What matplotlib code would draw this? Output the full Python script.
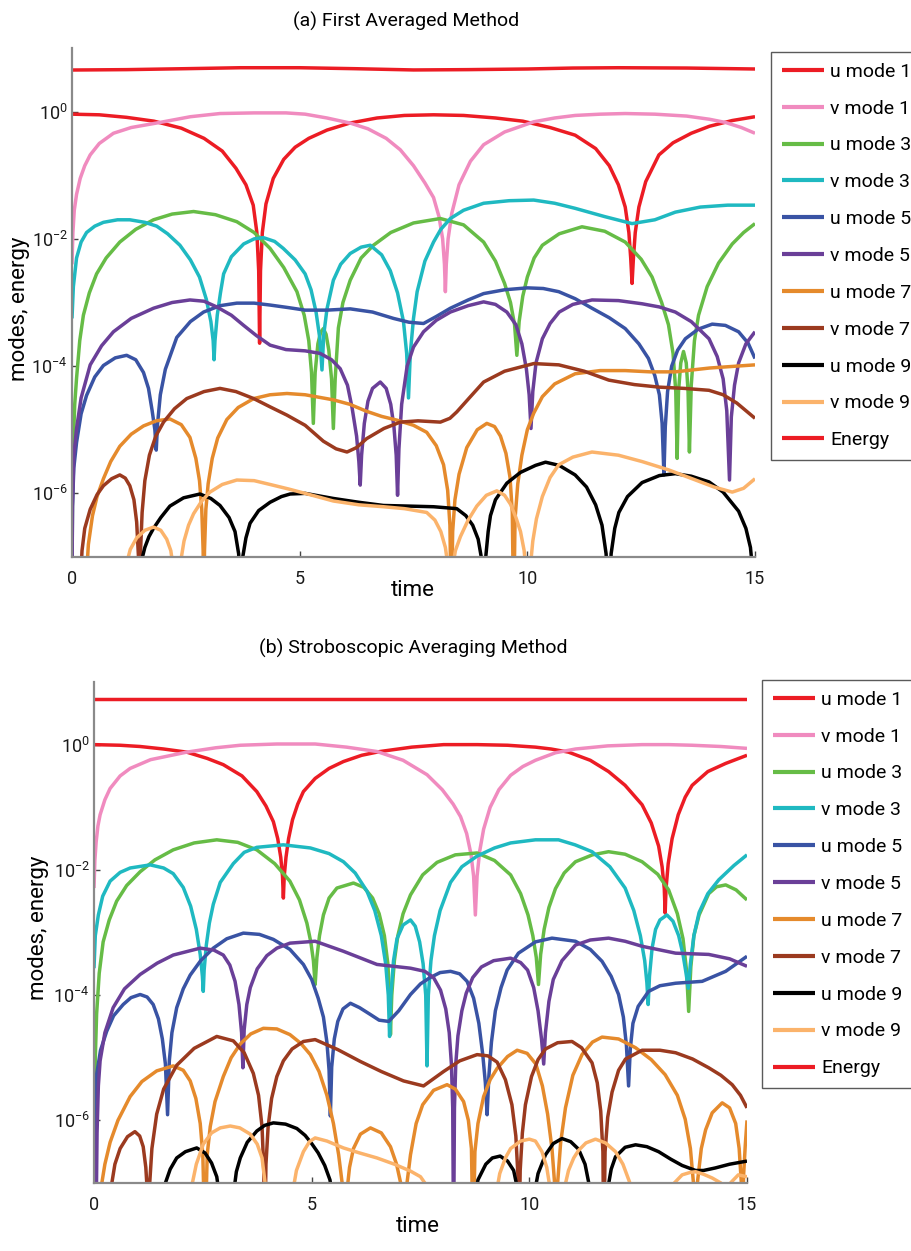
import numpy as np
import matplotlib
matplotlib.use("Agg")
import matplotlib.pyplot as plt
from matplotlib.ticker import FixedLocator, NullLocator, FuncFormatter

plt.rcParams['font.family'] = ['Roboto', 'DejaVu Sans']

# ---- mode amplitudes, stored as (time, log10 amplitude) points ----
# (a) first averaged method
energy_a = [(0, 0.654), (1.2, 0.66), (2.5, 0.675), (3.7, 0.69), (5, 0.69), (6.2, 0.675), (7.5, 0.655),
            (8.7, 0.66), (10, 0.67), (11, 0.685), (12, 0.69), (13.5, 0.685), (15, 0.67)]
u1_a = [(0, -0.04), (0.6, -0.05), (1.2, -0.09), (1.8, -0.15), (2.4, -0.26), (2.9, -0.42), (3.3, -0.62),
        (3.6, -0.89), (3.82, -1.15), (3.98, -1.47), (4.06, -1.9), (4.1, -2.5), (4.12, -3.64), (4.14, -2.5),
        (4.18, -1.9), (4.26, -1.45), (4.42, -1.05), (4.65, -0.75), (4.9, -0.56), (5.2, -0.42), (5.6, -0.29),
        (6.1, -0.18), (6.7, -0.1), (7.3, -0.06), (7.94, -0.05), (8.6, -0.06), (9.3, -0.1), (9.9, -0.15),
        (10.5, -0.25), (11.05, -0.37), (11.5, -0.58), (11.8, -0.85), (12.0, -1.15), (12.15, -1.5),
        (12.23, -1.9), (12.27, -2.3), (12.3, -2.7), (12.33, -2.3), (12.37, -1.9), (12.45, -1.5),
        (12.6, -1.1), (12.89, -0.68), (13.2, -0.49), (13.6, -0.34), (14.0, -0.23), (14.5, -0.14), (15, -0.08)]
v1_a = [(0, -2.4), (0.02, -1.9), (0.05, -1.55), (0.1, -1.3), (0.18, -1.05), (0.28, -0.85), (0.4, -0.68),
        (0.6, -0.5), (0.91, -0.34), (1.3, -0.25), (1.93, -0.17), (2.6, -0.08), (3.25, -0.03), (4.0, -0.02),
        (4.7, -0.02), (5.12, -0.04), (5.6, -0.1), (6.11, -0.18), (6.5, -0.27), (6.9, -0.42), (7.21, -0.6),
        (7.5, -0.85), (7.75, -1.12), (7.94, -1.35), (8.06, -1.65), (8.14, -2.0), (8.18, -2.4), (8.2, -2.83),
        (8.22, -2.4), (8.26, -2.0), (8.34, -1.6), (8.5, -1.15), (8.75, -0.78), (9.04, -0.52), (9.5, -0.32),
        (10.14, -0.16), (10.6, -0.1), (11.05, -0.06), (11.6, -0.04), (12.15, -0.03), (12.8, -0.04),
        (13.5, -0.07), (14.0, -0.12), (14.35, -0.17), (14.7, -0.25), (15, -0.34)]
u3_a = [(0, -7.5), (0.01, -6.0), (0.03, -5.2), (0.06, -4.6), (0.1, -4.19), (0.17, -3.6), (0.25, -3.2),
        (0.38, -2.85), (0.54, -2.55), (0.75, -2.3), (1.05, -2.05), (1.4, -1.85), (1.79, -1.7), (2.2, -1.61),
        (2.67, -1.57), (3.15, -1.62), (3.62, -1.73), (4.0, -1.9), (4.35, -2.15), (4.65, -2.45), (4.94, -2.83),
        (5.1, -3.2), (5.2, -3.6), (5.26, -4.1), (5.3, -4.9), (5.34, -4.1), (5.4, -3.65), (5.46, -3.47),
        (5.52, -3.41), (5.58, -3.5), (5.64, -3.75), (5.7, -4.2), (5.74, -4.98), (5.78, -4.2), (5.85, -3.4),
        (5.95, -3.0), (6.11, -2.65), (6.35, -2.3), (6.62, -2.1), (7.0, -1.9), (7.5, -1.75), (8.09, -1.68),
        (8.6, -1.78), (9.04, -2.05), (9.3, -2.35), (9.5, -2.7), (9.63, -3.0), (9.72, -3.35), (9.77, -3.83),
        (9.82, -3.3), (9.9, -2.9), (10.0, -2.6), (10.15, -2.3), (10.33, -2.1), (10.7, -1.92), (11.2, -1.81),
        (11.7, -1.88), (12.15, -2.05), (12.5, -2.32), (12.74, -2.6), (12.95, -3.0), (13.1, -3.35),
        (13.2, -3.8), (13.26, -4.4), (13.29, -5.45), (13.32, -4.4), (13.37, -3.95), (13.43, -3.77),
        (13.49, -3.95), (13.53, -4.4), (13.56, -5.35), (13.6, -4.3), (13.67, -3.6), (13.76, -3.2),
        (13.95, -2.75), (14.2, -2.38), (14.5, -2.08), (14.75, -1.9), (15, -1.76)]
v3_a = [(0, -3.25), (0.03, -2.75), (0.1, -2.3), (0.2, -2.05), (0.32, -1.9), (0.5, -1.8), (0.69, -1.74),
        (1.0, -1.7), (1.27, -1.7), (1.6, -1.74), (1.86, -1.8), (2.1, -1.92), (2.37, -2.1), (2.6, -2.33),
        (2.8, -2.6), (2.95, -2.95), (3.05, -3.3), (3.1, -3.6), (3.12, -3.9), (3.14, -3.6), (3.19, -3.2),
        (3.26, -2.85), (3.33, -2.55), (3.5, -2.28), (3.77, -2.08), (4.0, -2.0), (4.2, -1.98), (4.45, -2.04),
        (4.64, -2.15), (4.9, -2.33), (5.12, -2.55), (5.25, -2.8), (5.36, -3.15), (5.44, -3.55), (5.49, -4.06),
        (5.53, -3.5), (5.6, -3.1), (5.74, -2.65), (5.9, -2.4), (6.11, -2.23), (6.35, -2.13), (6.55, -2.1),
        (6.8, -2.25), (6.99, -2.5), (7.15, -2.85), (7.28, -3.3), (7.35, -3.8), (7.39, -4.5), (7.43, -3.8),
        (7.5, -3.25), (7.58, -2.83), (7.75, -2.35), (7.94, -2.05), (8.1, -1.85), (8.31, -1.68), (8.6, -1.55),
        (9.04, -1.44), (9.6, -1.4), (10.14, -1.39), (10.6, -1.44), (11.05, -1.52), (11.7, -1.65),
        (12.3, -1.76), (12.8, -1.7), (13.25, -1.58), (13.8, -1.5), (14.4, -1.47), (15, -1.47)]
u5_a = [(0, -7.5), (0.01, -6.2), (0.04, -5.6), (0.1, -5.2), (0.2, -4.75), (0.32, -4.46), (0.5, -4.17),
        (0.69, -3.99), (0.95, -3.87), (1.2, -3.83), (1.4, -3.9), (1.57, -4.1), (1.68, -4.35), (1.76, -4.7),
        (1.82, -5.0), (1.85, -5.32), (1.88, -4.9), (1.94, -4.45), (2.05, -4.05), (2.3, -3.55), (2.6, -3.3),
        (2.89, -3.15), (3.25, -3.05), (3.62, -3.01), (4.0, -3.01), (4.35, -3.04), (4.75, -3.08),
        (5.12, -3.12), (5.6, -3.12), (6.11, -3.1), (6.6, -3.15), (7.06, -3.25), (7.4, -3.31), (7.72, -3.33),
        (8.0, -3.22), (8.31, -3.09), (8.7, -2.96), (9.04, -2.86), (9.5, -2.8), (10.0, -2.77), (10.35, -2.78),
        (10.69, -2.83), (11.05, -2.94), (11.42, -3.09), (11.8, -3.24), (12.15, -3.41), (12.45, -3.65),
        (12.66, -3.88), (12.8, -4.15), (12.9, -4.45), (12.96, -4.9), (13.0, -5.71), (13.03, -4.95),
        (13.08, -4.4), (13.17, -4.0), (13.3, -3.75), (13.47, -3.57), (13.75, -3.42), (14.06, -3.34),
        (14.35, -3.36), (14.64, -3.46), (14.85, -3.64), (15, -3.88)]
v5_a = [(0, -7.5), (0.01, -6.2), (0.04, -5.4), (0.1, -4.98), (0.2, -4.5), (0.4, -3.98), (0.65, -3.68),
        (0.91, -3.46), (1.3, -3.25), (1.79, -3.09), (2.2, -3.0), (2.59, -2.96), (2.9, -2.98), (3.18, -3.07),
        (3.5, -3.2), (3.77, -3.36), (4.05, -3.52), (4.35, -3.67), (4.7, -3.74), (5.12, -3.76), (5.45, -3.8),
        (5.7, -3.9), (5.89, -4.04), (6.05, -4.3), (6.15, -4.65), (6.25, -5.1), (6.3, -5.5), (6.33, -5.87),
        (6.36, -5.4), (6.42, -4.9), (6.5, -4.55), (6.6, -4.35), (6.77, -4.25), (6.9, -4.35), (7.0, -4.6),
        (7.07, -4.95), (7.12, -5.4), (7.15, -6.03), (7.18, -5.3), (7.24, -4.6), (7.36, -4.0), (7.5, -3.7),
        (7.72, -3.46), (8.0, -3.28), (8.31, -3.15), (8.7, -3.05), (9.04, -2.99), (9.3, -3.03), (9.55, -3.15),
        (9.75, -3.35), (9.88, -3.65), (9.98, -4.05), (10.04, -4.45), (10.08, -4.98), (10.12, -4.4),
        (10.19, -3.95), (10.33, -3.57), (10.5, -3.33), (10.7, -3.15), (11.0, -3.03), (11.42, -2.96),
        (12.0, -2.97), (12.52, -3.02), (12.9, -3.07), (13.25, -3.15), (13.6, -3.3), (13.99, -3.57),
        (14.17, -3.85), (14.3, -4.2), (14.38, -4.7), (14.44, -5.79), (14.48, -4.8), (14.55, -4.3),
        (14.64, -3.95), (14.8, -3.65), (15, -3.46)]
u7_a = [(0.3, -7.5), (0.36, -6.8), (0.45, -6.35), (0.55, -6.05), (0.69, -5.77), (0.85, -5.5), (1.05, -5.26),
        (1.3, -5.07), (1.57, -4.94), (1.85, -4.86), (2.15, -4.83), (2.4, -4.92), (2.59, -5.12), (2.72, -5.45),
        (2.8, -5.8), (2.85, -6.25), (2.88, -6.9), (2.895, -8), (2.91, -6.9), (2.94, -6.25), (2.99, -5.85),
        (3.08, -5.45), (3.2, -5.13), (3.4, -4.84), (3.65, -4.65), (3.99, -4.51), (4.35, -4.45), (4.72, -4.43),
        (5.12, -4.45), (5.74, -4.53), (6.1, -4.6), (6.47, -4.71), (6.8, -4.79), (7.14, -4.85), (7.5, -4.93),
        (7.79, -5.04), (8.0, -5.25), (8.16, -5.55), (8.25, -5.95), (8.3, -6.5), (8.33, -8), (8.36, -6.6),
        (8.41, -6.1), (8.5, -5.7), (8.67, -5.28), (8.9, -5.0), (9.11, -4.9), (9.28, -4.95), (9.41, -5.1),
        (9.53, -5.37), (9.62, -5.75), (9.67, -6.3), (9.70, -8), (9.73, -6.4), (9.79, -5.85), (9.88, -5.4),
        (10.0, -5.0), (10.14, -4.74), (10.33, -4.48), (10.6, -4.28), (11.05, -4.12), (11.6, -4.07),
        (12.15, -4.07), (12.7, -4.09), (13.25, -4.09), (14.0, -4.03), (15, -3.98)]
v7_a = [(0.18, -7.5), (0.22, -6.9), (0.28, -6.55), (0.4, -6.25), (0.55, -6.02), (0.69, -5.88), (0.87, -5.77),
        (1.05, -5.71), (1.17, -5.76), (1.27, -5.88), (1.36, -6.1), (1.42, -6.45), (1.46, -7.0), (1.48, -8),
        (1.5, -7.0), (1.54, -6.3), (1.6, -5.8), (1.7, -5.4), (1.84, -5.1), (2.01, -4.88), (2.25, -4.67),
        (2.52, -4.51), (2.9, -4.4), (3.25, -4.35), (3.6, -4.4), (3.99, -4.51), (4.35, -4.64), (4.72, -4.77),
        (5.12, -4.93), (5.52, -5.18), (5.8, -5.3), (6.04, -5.35), (6.25, -5.28), (6.47, -5.14), (6.85, -4.98),
        (7.21, -4.88), (7.6, -4.86), (8.09, -4.88), (8.3, -4.82), (8.45, -4.72), (8.75, -4.48), (9.04, -4.25),
        (9.5, -4.08), (10.14, -3.96), (10.69, -3.98), (11.25, -4.08), (11.79, -4.22), (12.35, -4.29),
        (12.89, -4.33), (13.45, -4.35), (13.99, -4.38), (14.3, -4.45), (14.6, -4.58), (14.8, -4.7),
        (15, -4.82)]
u9_a = [(1.49, -7.5), (1.53, -7.05), (1.6, -6.85), (1.69, -6.68), (1.79, -6.55), (1.95, -6.38), (2.15, -6.2),
        (2.45, -6.07), (2.81, -6.01), (3.05, -6.08), (3.25, -6.19), (3.45, -6.38), (3.58, -6.6), (3.66, -6.95),
        (3.71, -8), (3.75, -7.0), (3.82, -6.7), (3.91, -6.47), (4.1, -6.27), (4.35, -6.14), (4.6, -6.05),
        (4.79, -6.01), (5.12, -6.0), (5.74, -6.08), (6.3, -6.14), (6.84, -6.19), (7.4, -6.2), (7.94, -6.21),
        (8.45, -6.24), (8.65, -6.35), (8.8, -6.5), (8.92, -6.72), (9.0, -7.05), (9.04, -8), (9.08, -7.05),
        (9.14, -6.6), (9.19, -6.35), (9.3, -6.1), (9.55, -5.84), (9.85, -5.67), (10.18, -5.56), (10.4, -5.51),
        (10.7, -5.56), (11.05, -5.71), (11.3, -5.9), (11.5, -6.18), (11.64, -6.5), (11.73, -6.95), (11.79, -8),
        (11.84, -6.95), (11.92, -6.55), (12.01, -6.3), (12.2, -6.05), (12.52, -5.83), (12.9, -5.72),
        (13.25, -5.69), (13.6, -5.73), (13.99, -5.82), (14.3, -5.98), (14.64, -6.28), (14.8, -6.55),
        (14.9, -6.85), (14.96, -7.3), (15, -8)]
v9_a = [(1.16, -7.5), (1.2, -7.1), (1.28, -6.88), (1.42, -6.7), (1.6, -6.58), (1.79, -6.53), (1.95, -6.58),
        (2.08, -6.72), (2.17, -6.9), (2.23, -7.2), (2.27, -8), (2.34, -8), (2.38, -7.1), (2.46, -6.75),
        (2.56, -6.5), (2.67, -6.32), (2.85, -6.12), (3.03, -5.98), (3.3, -5.86), (3.62, -5.79), (4.0, -5.8),
        (4.35, -5.86), (4.75, -5.93), (5.12, -6.0), (5.74, -6.12), (6.3, -6.18), (6.84, -6.21), (7.3, -6.24),
        (7.79, -6.3), (7.97, -6.42), (8.1, -6.6), (8.2, -6.85), (8.27, -7.2), (8.31, -8), (8.35, -7.2),
        (8.42, -6.9), (8.53, -6.68), (8.7, -6.42), (8.89, -6.2), (9.1, -6.03), (9.33, -5.96), (9.5, -6.03),
        (9.63, -6.17), (9.75, -6.38), (9.85, -6.6), (9.93, -6.9), (9.98, -7.3), (10.02, -8), (10.06, -7.2),
        (10.12, -6.75), (10.2, -6.4), (10.33, -6.05), (10.5, -5.75), (10.69, -5.55), (11.0, -5.43),
        (11.42, -5.35), (12.0, -5.4), (12.52, -5.5), (13.1, -5.63), (13.62, -5.77), (14.1, -5.9),
        (14.5, -5.98), (14.75, -5.92), (15, -5.77)]

# (b) stroboscopic averaging method
energy_b = [(0, 0.73), (3, 0.73), (6, 0.73), (9, 0.73), (12, 0.73), (15, 0.73)]
u1_b = [(0, 0.0), (0.6, -0.01), (1.06, -0.03), (1.6, -0.07), (2.13, -0.12), (2.6, -0.22), (2.97, -0.32),
        (3.4, -0.5), (3.74, -0.75), (3.95, -0.98), (4.12, -1.23), (4.22, -1.5), (4.29, -1.8), (4.33, -2.1),
        (4.35, -2.45), (4.37, -2.1), (4.41, -1.8), (4.47, -1.5), (4.56, -1.2), (4.68, -0.95), (4.81, -0.75),
        (5.08, -0.54), (5.4, -0.38), (5.73, -0.27), (6.15, -0.17), (6.57, -0.11), (7.3, -0.04), (8.03, 0.0),
        (8.8, 0.0), (9.5, -0.01), (10.14, -0.04), (10.5, -0.07), (10.9, -0.12), (11.4, -0.25), (11.82, -0.43),
        (12.2, -0.65), (12.59, -0.96), (12.8, -1.25), (12.97, -1.62), (13.05, -1.95), (13.1, -2.3),
        (13.12, -2.69), (13.14, -2.3), (13.19, -1.9), (13.28, -1.5), (13.42, -1.12), (13.58, -0.84),
        (13.74, -0.65), (14.1, -0.43), (14.51, -0.3), (15, -0.17)]
v1_b = [(0, -2.29), (0.02, -1.85), (0.05, -1.55), (0.09, -1.3), (0.14, -1.12), (0.25, -0.88), (0.37, -0.70),
        (0.6, -0.5), (0.83, -0.38), (1.3, -0.24), (2.13, -0.12), (2.8, -0.05), (3.36, -0.01), (4.2, 0.01),
        (5.08, 0.01), (5.8, -0.04), (6.5, -0.11), (7.1, -0.25), (7.65, -0.48), (8.0, -0.72), (8.25, -0.95),
        (8.42, -1.15), (8.56, -1.42), (8.66, -1.75), (8.72, -2.1), (8.76, -2.72), (8.8, -2.1), (8.86, -1.7),
        (8.95, -1.35), (9.1, -1.0), (9.3, -0.72), (9.57, -0.49), (9.85, -0.35), (10.14, -0.25), (10.6, -0.13),
        (11.06, -0.07), (11.8, -0.02), (12.59, 0.0), (13.2, 0.0), (13.74, -0.01), (14.4, -0.03), (15, -0.06)]
u3_b = [(0, -7.5), (0.01, -6.0), (0.03, -5.0), (0.06, -4.3), (0.12, -3.65), (0.21, -3.15), (0.35, -2.8),
        (0.52, -2.5), (0.75, -2.25), (1.06, -2.03), (1.4, -1.84), (1.82, -1.68), (2.3, -1.57), (2.82, -1.52),
        (3.3, -1.56), (3.74, -1.68), (4.15, -1.9), (4.5, -2.18), (4.72, -2.48), (4.89, -2.85), (4.98, -3.15),
        (5.04, -3.45), (5.08, -3.83), (5.12, -3.4), (5.18, -3.05), (5.27, -2.72), (5.4, -2.45), (5.58, -2.29),
        (5.96, -2.21), (6.2, -2.28), (6.4, -2.45), (6.55, -2.7), (6.67, -3.05), (6.75, -3.5), (6.79, -4.0),
        (6.81, -4.63), (6.84, -4.0), (6.9, -3.45), (6.98, -3.05), (7.1, -2.7), (7.27, -2.4), (7.55, -2.08),
        (7.88, -1.88), (8.3, -1.76), (8.8, -1.73), (9.2, -1.85), (9.57, -2.08), (9.8, -2.38), (9.97, -2.72),
        (10.08, -3.05), (10.16, -3.4), (10.21, -3.83), (10.26, -3.35), (10.34, -2.95), (10.45, -2.6),
        (10.6, -2.3), (10.8, -2.05), (11.06, -1.87), (11.45, -1.76), (11.82, -1.71), (12.2, -1.75),
        (12.59, -1.87), (12.95, -2.07), (13.2, -2.32), (13.4, -2.7), (13.53, -3.1), (13.61, -3.6),
        (13.66, -4.26), (13.71, -3.55), (13.78, -3.05), (13.9, -2.72), (14.12, -2.38), (14.3, -2.27),
        (14.51, -2.24), (14.75, -2.32), (15, -2.48)]
v3_b = [(0, -3.57), (0.03, -3.05), (0.1, -2.72), (0.2, -2.42), (0.37, -2.18), (0.6, -2.04), (0.83, -1.97),
        (1.29, -1.92), (1.6, -1.97), (1.82, -2.06), (2.05, -2.28), (2.22, -2.58), (2.35, -2.95), (2.44, -3.35),
        (2.49, -3.7), (2.51, -3.94), (2.53, -3.6), (2.58, -3.2), (2.65, -2.85), (2.74, -2.55), (2.9, -2.2),
        (3.2, -1.9), (3.45, -1.72), (3.74, -1.64), (4.35, -1.6), (4.97, -1.65), (5.4, -1.74), (5.73, -1.87),
        (6.0, -2.05), (6.27, -2.34), (6.45, -2.65), (6.6, -3.05), (6.7, -3.5), (6.76, -4.0), (6.79, -4.66),
        (6.82, -4.0), (6.88, -3.45), (6.96, -3.1), (7.1, -2.88), (7.27, -2.8), (7.38, -2.9), (7.48, -3.15),
        (7.56, -3.5), (7.62, -4.0), (7.65, -5.13), (7.68, -4.0), (7.74, -3.45), (7.82, -3.05), (7.95, -2.65),
        (8.19, -2.2), (8.45, -1.95), (8.8, -1.78), (9.2, -1.65), (9.57, -1.57), (10.14, -1.52), (10.67, -1.52),
        (11.05, -1.6), (11.44, -1.71), (11.85, -1.95), (12.2, -2.29), (12.4, -2.65), (12.55, -3.05),
        (12.65, -3.45), (12.7, -3.8), (12.73, -4.15), (12.76, -3.7), (12.82, -3.25), (12.9, -2.95),
        (13.0, -2.8), (13.16, -2.72), (13.3, -2.82), (13.43, -3.05), (13.53, -3.35), (13.6, -3.65),
        (13.65, -3.89), (13.7, -3.5), (13.78, -3.05), (13.9, -2.68), (14.1, -2.38), (14.35, -2.16),
        (14.7, -1.93), (15, -1.76)]
u5_b = [(0, -7.5), (0.01, -6.3), (0.03, -5.6), (0.06, -5.27), (0.15, -4.88), (0.29, -4.58), (0.45, -4.33),
        (0.67, -4.15), (0.85, -4.04), (1.06, -3.99), (1.22, -4.03), (1.36, -4.15), (1.48, -4.38), (1.57, -4.7),
        (1.64, -5.1), (1.69, -5.91), (1.73, -5.05), (1.79, -4.6), (1.9, -4.2), (2.05, -3.9), (2.21, -3.68),
        (2.45, -3.45), (2.74, -3.25), (3.05, -3.1), (3.43, -3.01), (3.8, -3.03), (4.12, -3.11), (4.5, -3.27),
        (4.81, -3.51), (5.0, -3.75), (5.15, -4.05), (5.27, -4.35), (5.35, -4.75), (5.4, -5.2), (5.43, -5.93),
        (5.46, -5.15), (5.52, -4.7), (5.6, -4.42), (5.72, -4.22), (5.89, -4.13), (6.1, -4.2), (6.35, -4.31),
        (6.55, -4.4), (6.77, -4.42), (7.0, -4.25), (7.27, -3.99), (7.5, -3.82), (7.72, -3.72), (7.95, -3.64),
        (8.19, -3.62), (8.4, -3.66), (8.57, -3.78), (8.72, -4.05), (8.84, -4.45), (8.93, -4.95), (8.99, -5.4),
        (9.03, -5.91), (9.07, -5.3), (9.13, -4.75), (9.22, -4.25), (9.35, -3.88), (9.49, -3.6), (9.75, -3.33),
        (10.14, -3.15), (10.52, -3.09), (11.06, -3.14), (11.4, -3.27), (11.67, -3.46), (11.88, -3.7),
        (12.05, -3.99), (12.16, -4.35), (12.23, -4.8), (12.28, -5.45), (12.32, -4.85), (12.38, -4.45),
        (12.5, -4.18), (12.74, -3.94), (13.0, -3.85), (13.36, -3.81), (13.97, -3.78), (14.51, -3.62),
        (15, -3.38)]
v5_b = [(0.05, -7.5), (0.07, -6.2), (0.1, -5.45), (0.14, -5.05), (0.25, -4.6), (0.44, -4.2), (0.7, -3.9),
        (1.06, -3.67), (1.45, -3.49), (1.82, -3.36), (2.44, -3.25), (2.75, -3.28), (2.97, -3.36), (3.12, -3.52),
        (3.24, -3.78), (3.33, -4.15), (3.39, -4.6), (3.42, -5.16), (3.45, -4.55), (3.51, -4.15), (3.59, -3.88),
        (3.75, -3.58), (3.97, -3.37), (4.2, -3.25), (4.5, -3.17), (5.08, -3.14), (5.73, -3.3), (6.5, -3.51),
        (7.27, -3.57), (7.6, -3.62), (7.8, -3.72), (7.96, -3.92), (8.08, -4.22), (8.16, -4.6), (8.21, -5.1),
        (8.24, -5.8), (8.26, -8), (8.28, -5.8), (8.31, -5.1), (8.36, -4.65), (8.45, -4.25), (8.55, -3.97),
        (8.7, -3.72), (8.9, -3.55), (9.18, -3.45), (9.57, -3.41), (9.8, -3.48), (9.96, -3.6), (10.1, -3.88),
        (10.2, -4.25), (10.28, -4.7), (10.33, -5.1), (10.37, -4.6), (10.45, -4.1), (10.55, -3.75),
        (10.75, -3.45), (11.06, -3.2), (11.4, -3.12), (11.82, -3.09), (12.2, -3.14), (12.59, -3.22),
        (13.36, -3.33), (14.12, -3.35), (14.6, -3.42), (15, -3.54)]
u7_b = [(0.14, -7.5), (0.18, -7.0), (0.25, -6.7), (0.37, -6.35), (0.55, -6.0), (0.83, -5.62), (1.1, -5.38),
        (1.44, -5.21), (1.82, -5.13), (2.05, -5.2), (2.21, -5.37), (2.34, -5.65), (2.44, -6.05), (2.5, -6.55),
        (2.55, -8), (2.6, -6.55), (2.67, -6.1), (2.78, -5.7), (2.97, -5.3), (3.15, -5.0), (3.36, -4.78),
        (3.6, -4.62), (3.89, -4.53), (4.2, -4.54), (4.5, -4.63), (4.75, -4.77), (4.97, -4.95), (5.17, -5.22),
        (5.35, -5.6), (5.5, -6.05), (5.62, -6.55), (5.7, -7.0), (5.76, -8), (5.8, -7.2), (5.87, -6.75),
        (5.96, -6.45), (6.12, -6.22), (6.35, -6.12), (6.6, -6.2), (6.81, -6.42), (6.95, -6.7), (7.06, -7.05),
        (7.13, -8), (7.19, -7.0), (7.27, -6.55), (7.4, -6.05), (7.55, -5.75), (7.8, -5.52), (8.11, -5.43),
        (8.3, -5.5), (8.49, -5.7), (8.6, -6.0), (8.67, -6.45), (8.71, -8), (8.75, -6.5), (8.82, -6.05),
        (8.95, -5.62), (9.1, -5.35), (9.26, -5.17), (9.5, -4.98), (9.72, -4.88), (9.95, -4.93), (10.15, -5.1),
        (10.3, -5.45), (10.42, -5.9), (10.52, -6.45), (10.58, -7.0), (10.61, -8), (10.65, -7.0),
        (10.72, -6.35), (10.83, -5.8), (11.0, -5.28), (11.21, -4.95), (11.45, -4.75), (11.67, -4.67),
        (12.05, -4.7), (12.44, -4.84), (12.8, -5.03), (13.12, -5.27), (13.4, -5.6), (13.58, -5.98),
        (13.7, -6.45), (13.77, -7.0), (13.81, -8), (13.86, -7.0), (13.95, -6.45), (14.05, -6.15),
        (14.2, -5.88), (14.43, -5.72), (14.6, -5.8), (14.74, -6.05), (14.82, -6.45), (14.87, -7.0),
        (14.89, -8), (14.92, -6.9), (14.96, -6.4), (15, -6.0)]
v7_b = [(0.37, -7.5), (0.41, -7.0), (0.48, -6.7), (0.6, -6.45), (0.77, -6.26), (0.94, -6.18), (1.05, -6.25),
        (1.13, -6.42), (1.19, -6.75), (1.23, -7.2), (1.25, -8), (1.28, -7.0), (1.33, -6.45), (1.44, -5.9),
        (1.6, -5.5), (1.9, -5.12), (2.3, -4.85), (2.82, -4.66), (3.2, -4.73), (3.45, -4.92), (3.66, -5.25),
        (3.78, -5.6), (3.86, -6.1), (3.9, -6.8), (3.92, -8), (3.95, -6.7), (4.0, -6.1), (4.08, -5.65),
        (4.2, -5.3), (4.35, -5.05), (4.55, -4.86), (4.81, -4.74), (5.08, -4.71), (5.6, -4.87), (6.12, -5.06),
        (6.6, -5.22), (7.11, -5.37), (7.57, -5.45), (8.03, -5.22), (8.4, -5.05), (8.8, -4.95), (9.05, -4.97),
        (9.26, -5.07), (9.45, -5.35), (9.6, -5.75), (9.69, -6.25), (9.74, -6.9), (9.76, -8), (9.79, -6.8),
        (9.84, -6.2), (9.91, -5.75), (10.05, -5.3), (10.2, -5.03), (10.37, -4.86), (10.65, -4.76),
        (10.98, -4.74), (11.2, -4.84), (11.44, -5.08), (11.56, -5.4), (11.64, -5.85), (11.69, -6.5),
        (11.71, -8), (11.74, -6.5), (11.8, -5.95), (11.9, -5.55), (12.05, -5.2), (12.21, -5.02),
        (12.59, -4.88), (13.0, -4.88), (13.36, -4.92), (13.75, -5.02), (14.12, -5.16), (14.4, -5.28),
        (14.66, -5.43), (14.85, -5.6), (15, -5.8)]
u9_b = [(1.59, -7.5), (1.64, -7.0), (1.75, -6.78), (1.9, -6.6), (2.1, -6.5), (2.36, -6.44), (2.55, -6.52),
        (2.7, -6.68), (2.82, -6.9), (2.9, -7.3), (2.95, -8), (3.15, -8), (3.2, -7.2), (3.27, -6.82),
        (3.36, -6.6), (3.52, -6.35), (3.74, -6.17), (3.92, -6.08), (4.12, -6.04), (4.4, -6.06), (4.66, -6.13),
        (4.85, -6.24), (5.0, -6.37), (5.15, -6.52), (5.3, -6.72), (5.42, -6.95), (5.5, -7.3), (5.54, -8),
        (8.69, -8), (8.74, -7.3), (8.82, -6.95), (9.0, -6.7), (9.15, -6.6), (9.33, -6.57), (9.5, -6.65),
        (9.64, -6.8), (9.73, -7.1), (9.79, -8), (10.06, -8), (10.12, -7.15), (10.2, -6.85), (10.37, -6.55),
        (10.55, -6.37), (10.75, -6.29), (10.95, -6.34), (11.13, -6.46), (11.28, -6.7), (11.38, -7.05),
        (11.44, -8), (11.75, -8), (11.8, -7.1), (11.88, -6.78), (11.98, -6.58), (12.2, -6.43), (12.44, -6.39),
        (12.7, -6.42), (12.97, -6.5), (13.25, -6.62), (13.51, -6.72), (13.82, -6.8), (14.0, -6.8),
        (14.27, -6.76), (14.6, -6.7), (15, -6.65)]
v9_b = [(2.21, -7.5), (2.26, -7.0), (2.35, -6.7), (2.51, -6.38), (2.7, -6.2), (2.9, -6.12), (3.13, -6.09),
        (3.35, -6.12), (3.59, -6.22), (3.75, -6.38), (3.86, -6.6), (3.93, -7.0), (3.97, -8), (4.5, -8),
        (4.55, -7.2), (4.65, -6.8), (4.81, -6.5), (4.95, -6.34), (5.08, -6.28), (5.35, -6.33), (5.73, -6.44),
        (6.1, -6.52), (6.5, -6.6), (6.9, -6.7), (7.27, -6.81), (7.5, -6.9), (7.65, -7.05), (7.75, -7.4),
        (7.8, -8), (9.18, -8), (9.23, -7.2), (9.32, -6.85), (9.45, -6.6), (9.57, -6.45), (9.8, -6.33),
        (10.0, -6.3), (10.14, -6.33), (10.29, -6.5), (10.4, -6.75), (10.48, -7.1), (10.52, -8), (10.75, -8),
        (10.8, -7.1), (10.9, -6.8), (11.02, -6.6), (11.13, -6.48), (11.3, -6.36), (11.52, -6.3),
        (11.75, -6.36), (11.98, -6.5), (12.15, -6.7), (12.3, -6.98), (12.4, -7.4), (12.44, -8), (13.2, -8),
        (13.25, -7.3), (13.33, -7.0), (13.51, -6.87), (13.7, -6.83), (13.82, -6.82), (14.0, -6.86),
        (14.2, -6.92), (14.4, -7.0), (14.45, -7.3), (14.5, -8), (14.55, -7.3), (14.62, -7.0), (14.8, -6.87),
        (15, -6.9)]

labels = ['u mode 1', 'v mode 1', 'u mode 3', 'v mode 3', 'u mode 5', 'v mode 5',
          'u mode 7', 'v mode 7', 'u mode 9', 'v mode 9', 'Energy']
colors = ['#ec1c24', '#f08bbf', '#66bc46', '#1fb9c1', '#3953a4', '#6a3f98',
          '#e58a2c', '#9b3a1f', '#000000', '#fbb36b', '#ec1c24']

series_a = [u1_a, v1_a, u3_a, v3_a, u5_a, v5_a, u7_a, v7_a, u9_a, v9_a, energy_a]
series_b = [u1_b, v1_b, u3_b, v3_b, u5_b, v5_b, u7_b, v7_b, u9_b, v9_b, energy_b]

W, H = 912, 1251
fig = plt.figure(figsize=(W / 100, H / 100), dpi=100)


def px_axes(left, top, right, bottom):
    return fig.add_axes([left / W, 1 - bottom / H, (right - left) / W, (bottom - top) / H])


ax_a = px_axes(72, 48, 755, 557)
ax_b = px_axes(94, 682, 747, 1183)

exp_fmt = FuncFormatter(lambda v, p: r'$\mathregular{10^{%d}}$' % int(round(np.log10(v))))


def draw(ax, series):
    for pts, lab, col in zip(series, labels, colors):
        arr = np.array(pts, dtype=float)
        ax.plot(arr[:, 0], 10.0 ** arr[:, 1], color=col, lw=2.5, label=lab,
                solid_joinstyle='round', solid_capstyle='butt')
    ax.set_yscale('log')
    ax.set_xlim(0, 15)
    ax.set_ylim(1e-7, 1e1)
    ax.xaxis.set_major_locator(FixedLocator([0, 5, 10, 15]))
    ax.yaxis.set_major_locator(FixedLocator([1e-6, 1e-4, 1e-2, 1e0]))
    ax.yaxis.set_minor_locator(NullLocator())
    ax.xaxis.set_minor_locator(NullLocator())
    ax.yaxis.set_major_formatter(exp_fmt)
    for s in ('top', 'right'):
        ax.spines[s].set_visible(False)
    for s in ('left', 'bottom'):
        ax.spines[s].set_color('#8a8a8a')
        ax.spines[s].set_linewidth(1.6)
    ax.tick_params(axis='both', direction='in', length=4, width=1, color='#444444',
                   labelcolor='#1a1a1a', labelsize=13)
    ax.tick_params(axis='x', pad=9)
    ax.tick_params(axis='y', pad=3)
    ax.set_facecolor('white')


draw(ax_a, series_a)
draw(ax_b, series_b)

for ax, x0, y0 in ((ax_a, 771, 52), (ax_b, 762, 680)):
    leg = ax.legend(loc='upper left', bbox_to_anchor=(x0 / W, 1 - y0 / H),
                    bbox_transform=fig.transFigure, borderaxespad=0, fontsize=14,
                    labelspacing=0.97, handlelength=2.2, handletextpad=0.3,
                    borderpad=0.55, fancybox=False, framealpha=1)
    leg.get_frame().set_edgecolor('#5a5a5a')
    leg.get_frame().set_linewidth(1.0)
    for ln in leg.get_lines():
        ln.set_linewidth(3)

fig.text(406 / W, 1 - 21 / H, '(a) First Averaged Method', ha='center', va='center', fontsize=14)
fig.text(413 / W, 1 - 648 / H, '(b) Stroboscopic Averaging Method', ha='center', va='center', fontsize=14)

fig.text(413 / W, 1 - 590 / H, 'time', ha='center', va='center', fontsize=16)
fig.text(418 / W, 1 - 1227 / H, 'time', ha='center', va='center', fontsize=16)

fig.text(20 / W, 1 - 309 / H, 'modes, energy', rotation=90, ha='center', va='center', fontsize=16)
fig.text(39 / W, 1 - 928 / H, 'modes, energy', rotation=90, ha='center', va='center', fontsize=16)

fig.savefig('out.png', dpi=100, facecolor='white')
